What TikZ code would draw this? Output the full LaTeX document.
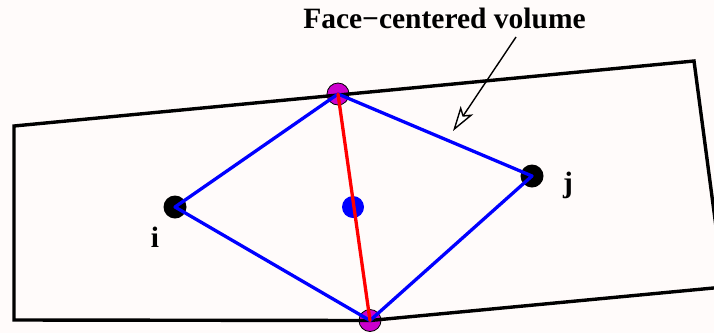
\documentclass[tikz,border=0pt]{standalone}
\usepackage{fontspec}
\setmainfont{Liberation Serif}
\usepackage{xcolor}
\definecolor{fcvbg}{RGB}{255,251,250}
\definecolor{fcvblue}{RGB}{0,0,255}
\definecolor{fcvred}{RGB}{255,0,0}
\definecolor{fcvpurple}{RGB}{204,0,204}
\usetikzlibrary{arrows.meta,positioning}

\begin{document}
\begin{tikzpicture}[x=1pt,y=-1pt,
    cellpt/.style={circle,fill=black,minimum size=23pt,inner sep=0pt},
    facept/.style={circle,fill=fcvpurple,draw=black,line width=0.8pt,minimum size=22pt,inner sep=0pt},
    midpt/.style={circle,fill=fcvblue,minimum size=22pt,inner sep=0pt},
    edgeline/.style={line width=3.3pt,line cap=round,line join=round},
    lbl/.style={font=\fontsize{29.5}{32}\selectfont\bfseries,inner sep=0pt,anchor=base}]
  % Canvas
  \fill[fcvbg] (0,0) rectangle (714,333);
  \clip (0,0) rectangle (714,333);
  % Points
  \node[cellpt]  (celli) at (175,207) {};
  \node[cellpt]  (cellj) at (532,176) {};
  \node[facept]  (ftop)  at (338,94)  {};
  \node[facept]  (fbot)  at (370,320.5) {};
  \node[midpt]   (fmid)  at (353,207) {};
  % Cell outline
  \draw[edgeline,line width=3.4pt,line cap=butt,line join=miter]
    (14,126) -- (694,61) -- (724,287) -- (fbot.center) -- (14,320) -- cycle;
  % Face-centered volume
  \draw[edgeline,fcvblue] (celli.center) -- (ftop.center) -- (cellj.center)
    -- (fbot.center) -- cycle;
  \draw[edgeline,fcvred] (ftop.center) -- (fbot.center);
  % Labels
  \node[lbl] (labi) at (155,247) {i};
  \node[lbl] (labj) at (568,192) {j};
  \node[lbl] (title) at (444.5,28) {Face−centered volume};
  \coordinate (arrtip) at (453,131);
  \draw[line width=1.4pt,-{Stealth[open,fill=white,length=25pt,width=15pt,inset=6pt]}]
    (516,37) -- (arrtip);
\end{tikzpicture}
\end{document}
